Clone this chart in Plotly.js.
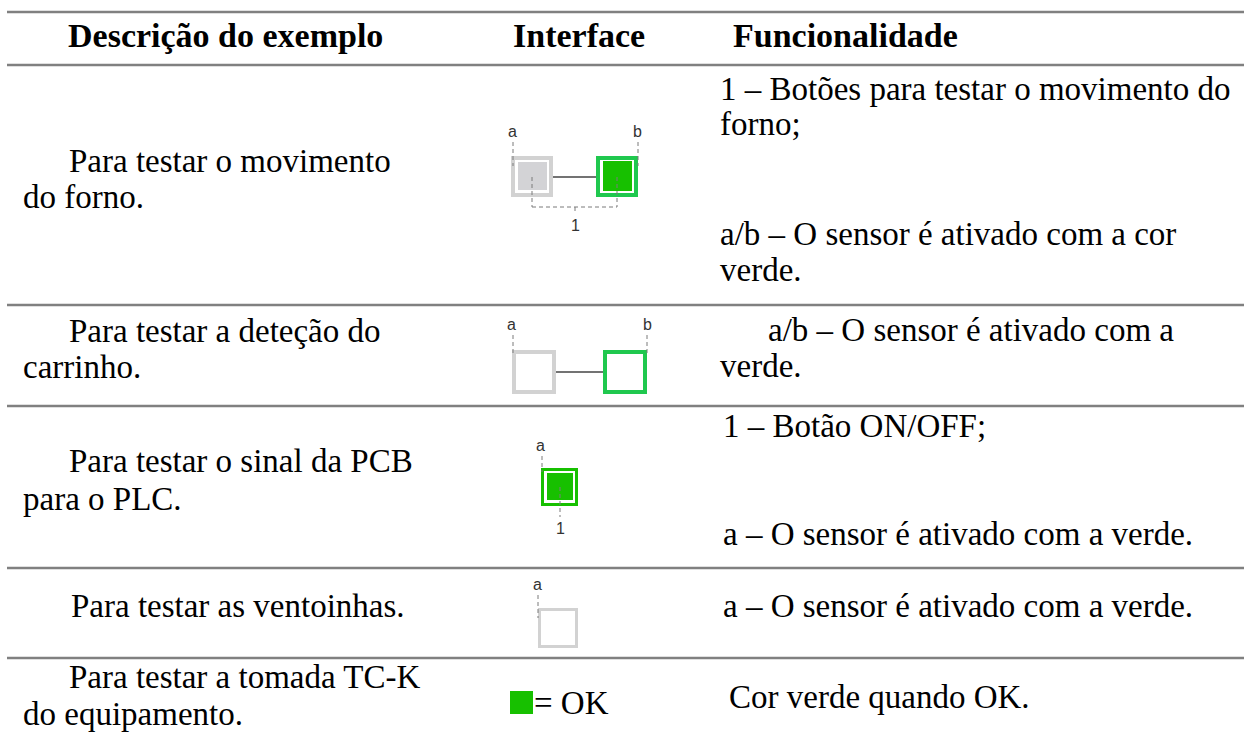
<!DOCTYPE html>
<html>
<head>
<meta charset="utf-8">
<script src="https://cdn.plot.ly/plotly-3.0.1.min.js"></script>
<style>html,body{margin:0;padding:0;background:#fff;}#chart{width:1244px;height:740px;}</style>
</head>
<body>
<div id="chart"></div>
<script>
// ---------- DATA (text content) ----------
const headers = ["Descrição do exemplo", "Interface", "Funcionalidade"];
const descLines = [
  ["Para testar o movimento", "do forno."],
  ["Para testar a deteção do", "carrinho."],
  ["Para testar o sinal da PCB", "para o PLC."],
  ["Para testar as ventoinhas."],
  ["Para testar a tomada TC-K", "do equipamento."]
];
const funcLines = [
  ["1 – Botões para testar o movimento do", "forno;", "a/b – O sensor é ativado com a cor", "verde."],
  ["a/b – O sensor é ativado com a", "verde."],
  ["1 – Botão ON/OFF;", "a – O sensor é ativado com a verde."],
  ["a – O sensor é ativado com a verde."],
  ["Cor verde quando OK."]
];
const sensorLabels = ["a", "b"];
const buttonLabel = "1";
const okLabel = "= OK";

// ---------- LAYOUT GEOMETRY ----------
const W = 1244, H = 740;
const BODY_FONT = "Liberation Serif, Times New Roman, serif";
const LABEL_FONT = "Liberation Sans, Arial, sans-serif";
const BODY_SIZE = 33, HEAD_SIZE = 34, LABEL_SIZE = 16;
const ruleY = [12, 65, 305, 406, 568, 658];
const ruleX0 = 7;
const headBase = 47;
const headX = [67, 512, 732];
const descX = [[68, 22], [68, 22], [68, 22], [70], [68, 22]];
const descBase = [[172, 208], [342, 378], [472, 510], [617], [688, 725]];
const funcX = [[719, 719, 719, 719], [767, 719], [722, 722], [722], [728]];
const funcBase = [[100, 135, 245, 281], [341, 377], [437, 545], [617], [708]];

const GREEN = "#17c000", GREEN_EDGE = "#1fc84e", GRAY_EDGE = "#d2d2d2", GRAY_FILL = "#d3d3d6";
const RULE = "#808080", CONNECT = "#444444", DASH = "#7a7a7a";

const annotations = [];
const shapes = [];

function txt(x, baseline, text, size, bold, font, color) {
  annotations.push({
    x: x, y: baseline - size * 0.335, xref: "x", yref: "y",
    text: bold ? "<b>" + text + "</b>" : text,
    showarrow: false, xanchor: "left", yanchor: "middle", align: "left",
    borderpad: 0,
    font: {family: font || BODY_FONT, size: size, color: color || "#000"}
  });
}
function ctxt(x, y, text) {
  annotations.push({
    x: x, y: y, xref: "x", yref: "y", text: text, showarrow: false,
    xanchor: "center", yanchor: "middle", borderpad: 0,
    font: {family: LABEL_FONT, size: LABEL_SIZE, color: "#333333"}
  });
}
function line(x0, y0, x1, y1, color, w, dash) {
  shapes.push({type: "line", xref: "x", yref: "y", x0: x0, y0: y0, x1: x1, y1: y1,
    line: {color: color, width: w, dash: dash || "solid"}});
}
function box(x0, y0, x1, y1, edge, bw) {
  shapes.push({type: "rect", xref: "x", yref: "y",
    x0: x0 + bw / 2, y0: y0 + bw / 2, x1: x1 - bw / 2, y1: y1 - bw / 2,
    line: {color: edge, width: bw}, fillcolor: "rgba(0,0,0,0)"});
}
function fillRect(x0, y0, x1, y1, color) {
  shapes.push({type: "rect", xref: "x", yref: "y", x0: x0, y0: y0, x1: x1, y1: y1,
    line: {width: 0}, fillcolor: color});
}
const dsh = "4px,3px";

// table rules
ruleY.forEach(y => line(ruleX0, y, W, y, RULE, 2.5));

// header
headers.forEach((h, i) => txt(headX[i], headBase, h, HEAD_SIZE, true));

// description + functionality columns
descLines.forEach((rows, r) => rows.forEach((t, k) => txt(descX[r][k], descBase[r][k], t, BODY_SIZE)));
funcLines.forEach((rows, r) => rows.forEach((t, k) => txt(funcX[r][k], funcBase[r][k], t, BODY_SIZE)));

// ---------- interface icons ----------
// row 1: two sensors + button bracket
box(511, 156, 553, 197, GRAY_EDGE, 4); fillRect(518, 162, 547, 190, GRAY_FILL);
box(596, 156, 638, 197, GREEN_EDGE, 4); fillRect(603, 161, 632, 191, GREEN);
line(553, 177, 596, 177, CONNECT, 1.3);
ctxt(512, 131, sensorLabels[0]); line(513, 142, 513, 166, DASH, 1, dsh);
ctxt(637, 131, sensorLabels[1]); line(638, 142, 638, 166, DASH, 1, dsh);
line(532, 177, 532, 207, DASH, 1, dsh); line(532, 207, 617, 207, DASH, 1, dsh);
line(617, 177, 617, 207, DASH, 1, dsh); line(575, 207, 575, 214, DASH, 1, dsh);
ctxt(575, 225, buttonLabel);

// row 2: two empty sensors
box(512, 350, 556, 394, GRAY_EDGE, 4);
box(603, 350, 647, 394, GREEN_EDGE, 4);
line(556, 372, 603, 372, CONNECT, 1.3);
ctxt(511, 324, sensorLabels[0]); line(513, 335, 513, 356, DASH, 1, dsh);
ctxt(647, 324, sensorLabels[1]); line(647, 335, 647, 356, DASH, 1, dsh);

// row 3: one active button/sensor
box(541, 468, 578, 506, GREEN, 3); fillRect(547, 473, 573, 500, GREEN);
ctxt(540, 445, sensorLabels[0]); line(542, 456, 542, 472, DASH, 1, dsh);
line(560, 487, 560, 517, DASH, 1, dsh);
ctxt(560, 528, buttonLabel);

// row 4: one empty sensor
box(538, 608, 578, 648, GRAY_EDGE, 3);
ctxt(537, 584, sensorLabels[0]); line(538, 595, 538, 618, DASH, 1, dsh);

// row 5: OK legend
fillRect(510, 691, 533, 714, GREEN);
txt(533, 714, okLabel, BODY_SIZE);

const layout = {
  width: W, height: H,
  margin: {l: 0, r: 0, t: 0, b: 0, pad: 0},
  paper_bgcolor: "#ffffff", plot_bgcolor: "#ffffff",
  xaxis: {range: [0, W], visible: false, fixedrange: true},
  yaxis: {range: [H, 0], visible: false, fixedrange: true},
  showlegend: false,
  annotations: annotations,
  shapes: shapes
};
Plotly.newPlot("chart", [{x: [], y: [], type: "scatter", mode: "markers", hoverinfo: "skip"}], layout, {staticPlot: true, displayModeBar: false});
</script>
</body>
</html>
